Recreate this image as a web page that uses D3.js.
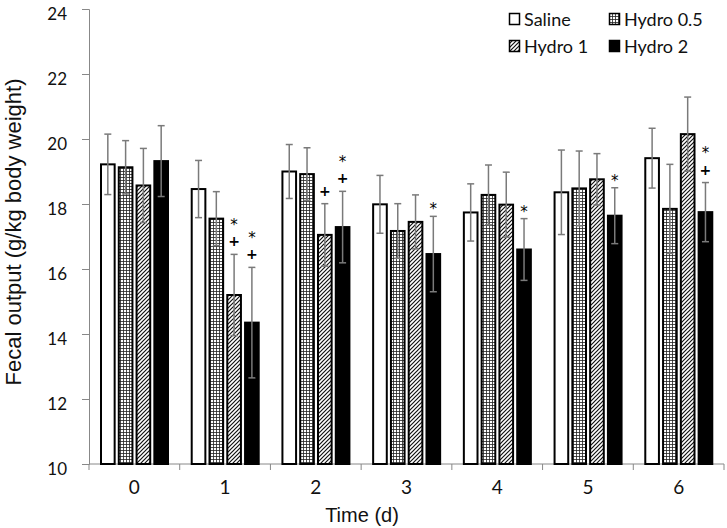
<!DOCTYPE html>
<html>
<head>
<meta charset="utf-8">
<style>
body { margin: 0; background: #fff; }
.tick text { font-family: Lato, "Noto Sans", sans-serif; }
</style>
</head>
<body>
<div id="ch1"></div>
<script src="https://d3js.org/d3.v7.min.js"></script>
<script>
// data
var days = ["0", "1", "2", "3", "4", "5", "6"];
var groups = ["Saline", "Hydro 0.5", "Hydro 1", "Hydro 2"];
var saline   = [19.22, 18.46, 19.00, 17.99, 17.74, 18.36, 19.41];
var hydro05  = [19.13, 17.55, 18.92, 17.17, 18.28, 18.48, 17.85];
var hydro1   = [18.57, 15.20, 17.05, 17.45, 17.98, 18.76, 20.15];
var hydro2   = [19.32, 14.35, 17.29, 16.46, 16.60, 17.64, 17.75];
var salineErr  = [0.93, 0.88, 0.83, 0.89, 0.88, 1.30, 0.92];
var hydro05Err = [0.82, 0.83, 0.81, 0.84, 0.92, 1.15, 1.37];
var hydro1Err  = [1.14, 1.25, 0.96, 0.83, 1.00, 0.79, 1.14];
var hydro2Err  = [1.09, 1.70, 1.10, 1.16, 0.95, 0.86, 0.91];
// significance marks (stacked above the error bar, top first)
var hydro1Marks = [[], ["*", "+"], ["+"], [], [], [], []];
var hydro2Marks = [[], ["*", "+"], ["*", "+"], ["*"], ["*"], ["*"], ["*", "+"]];
var yTicks = [10, 12, 14, 16, 18, 20, 22, 24];

var values = [saline, hydro05, hydro1, hydro2];
var errs = [salineErr, hydro05Err, hydro1Err, hydro2Err];
var marks = [[], [], hydro1Marks, hydro2Marks];
var fills = ["#fff", "url(#grid)", "url(#hatch)", "#000"];

var W = 727, H = 528;
var svg = d3.select("#ch1").append("svg")
  .attr("width", W).attr("height", H);

var defs = svg.append("defs");
var pg = defs.append("pattern").attr("id", "grid")
  .attr("patternUnits", "userSpaceOnUse").attr("width", 3).attr("height", 3);
pg.append("rect").attr("width", 3).attr("height", 3).attr("fill", "#fff");
pg.append("path").attr("d", "M0,0.5H3M0.5,0V3").attr("stroke", "#222").attr("stroke-width", 0.8);

var ph = defs.append("pattern").attr("id", "hatch")
  .attr("patternUnits", "userSpaceOnUse").attr("width", 4).attr("height", 4);
ph.append("rect").attr("width", 4).attr("height", 4).attr("fill", "#fff");
ph.append("path").attr("d", "M-1,1L1,-1M0,4L4,0M3,5L5,3").attr("stroke", "#111").attr("stroke-width", 1.2);

var x = d3.scaleBand().domain(days).range([89, 724]).padding(0);
var xi = d3.scaleBand().domain(groups).range([11, 80]).paddingInner(0.12).paddingOuter(0);
var y = d3.scaleLinear().domain([10, 24]).range([464, 9]);

// y axis
var ya = svg.append("g").attr("transform", "translate(89,0)")
  .call(d3.axisLeft(y).tickValues(yTicks).tickSize(7).tickPadding(15));
ya.selectAll("line, path").attr("stroke", "#888");
ya.selectAll("text").attr("font-size", 17).attr("fill", "#111").attr("dy", "0.6em");

// x axis: ticks between categories
var xa = svg.append("g").attr("transform", "translate(0,464)")
  .call(d3.axisBottom(x).tickSize(0).tickPadding(17));
xa.select(".domain").attr("stroke", "#888").attr("d", "M89,0H724");
xa.selectAll("text").attr("font-size", 19).attr("fill", "#111")
  .attr("font-family", "'Liberation Sans', Arial, sans-serif");
var bounds = days.map(function(d) { return x(d); }).concat([x(days[days.length - 1]) + x.bandwidth()]);
xa.selectAll(".sep").data(bounds).enter().append("line")
  .attr("x1", function(d) { return d; }).attr("x2", function(d) { return d; })
  .attr("y1", 0).attr("y2", 6).attr("stroke", "#888");

// bars
groups.forEach(function(g, gi) {
  var gr = svg.append("g");
  gr.selectAll("rect").data(values[gi]).enter().append("rect")
    .attr("x", function(d, i) { return x(days[i]) + xi(g) + 1; })
    .attr("y", function(d) { return y(d); })
    .attr("width", xi.bandwidth() - 2)
    .attr("height", function(d) { return y(10) - y(d); })
    .attr("fill", fills[gi])
    .attr("stroke", "#000").attr("stroke-width", 2);

  // error bars
  var eb = svg.append("g").attr("stroke", "#7a7a7a").attr("stroke-width", 1.5);
  values[gi].forEach(function(v, i) {
    var cx = x(days[i]) + xi(g) + xi.bandwidth() / 2;
    var e = errs[gi][i];
    eb.append("line").attr("x1", cx).attr("x2", cx).attr("y1", y(v - e)).attr("y2", y(v + e));
    eb.append("line").attr("x1", cx - 3.5).attr("x2", cx + 3.5).attr("y1", y(v + e)).attr("y2", y(v + e));
    eb.append("line").attr("x1", cx - 3.5).attr("x2", cx + 3.5).attr("y1", y(v - e)).attr("y2", y(v - e));
  });
});

// significance marks, drawn on top
groups.forEach(function(g, gi) {
  values[gi].forEach(function(v, i) {
    var m = marks[gi][i] || [];
    if (!m.length) return;
    var cx = x(days[i]) + xi(g) + xi.bandwidth() / 2;
    var cap = y(v + errs[gi][i]);
    var t = svg.append("text")
      .attr("text-anchor", "middle")
      .attr("font-family", "'DejaVu Sans', sans-serif")
      .attr("font-size", 14)
      .attr("fill", "#000");
    m.forEach(function(s) {
      var base;
      if (s === "+") base = cap - 8;
      else base = m.length > 1 ? cap - 24.5 : cap - 2;
      t.append("tspan").attr("x", cx).attr("y", base)
        .attr("font-weight", s === "+" ? "bold" : "normal")
        .attr("font-size", s === "*" ? 15 : 14)
        .text(s);
    });
  });
});

// legend
var legPos = [[509, 13], [609, 13], [509, 40], [609, 40]];
groups.forEach(function(g, gi) {
  var lg = svg.append("g").attr("transform", "translate(" + legPos[gi][0] + "," + legPos[gi][1] + ")");
  lg.append("rect").attr("x", 0.5).attr("y", 0.5).attr("width", 10).attr("height", 11)
    .attr("fill", fills[gi]).attr("stroke", "#000").attr("stroke-width", 1.5);
  lg.append("text").attr("x", 15).attr("y", 13)
    .attr("font-family", "Lato, 'Noto Sans', sans-serif").attr("font-size", 18)
    .attr("fill", "#111").text(g);
});

// axis titles
svg.append("text")
  .attr("transform", "translate(21,232) rotate(-90)")
  .attr("text-anchor", "middle")
  .attr("font-family", "'Liberation Sans', Arial, sans-serif").attr("font-size", 22)
  .attr("fill", "#111")
  .text("Fecal output (g/kg body weight)");
svg.append("text")
  .attr("x", 362).attr("y", 522)
  .attr("text-anchor", "middle")
  .attr("font-family", "'Liberation Sans', Arial, sans-serif").attr("font-size", 20)
  .attr("fill", "#111")
  .text("Time (d)");
</script>
</body>
</html>
